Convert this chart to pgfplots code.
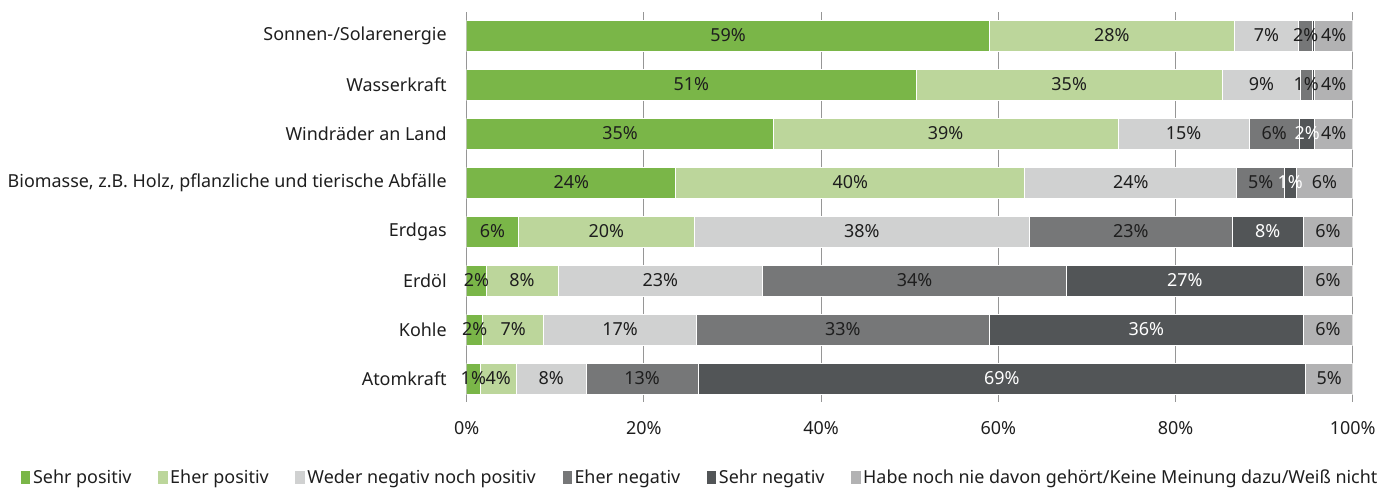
\documentclass[border=0pt]{standalone}
\usepackage{pgfplots}
\pgfplotsset{compat=1.18}
\usepackage{pgfplotstable}
\usepackage{fontspec}
\setmainfont{Noto Sans}
\definecolor{c1}{RGB}{122,182,72}
\definecolor{c2}{RGB}{188,214,155}
\definecolor{c3}{RGB}{208,209,209}
\definecolor{c4}{RGB}{118,119,120}
\definecolor{c5}{RGB}{82,85,87}
\definecolor{c6}{RGB}{178,178,179}
\definecolor{gridc}{RGB}{150,150,150}
\definecolor{txt}{RGB}{30,30,30}
\pgfplotstableread{
row sp spl ep epl we wel en enl sn snl hn hnl
1 59.0 59 27.6 28 7.3 7 1.6 2 0.2 0 4.3 4
2 50.7 51 34.6 35 8.8 9 1.3 1 0.3 0 4.3 4
3 34.6 35 38.9 39 14.8 15 5.7 6 1.7 2 4.3 4
4 23.6 24 39.4 40 23.9 24 5.4 5 1.3 1 6.4 6
5 5.8 6 19.9 20 37.8 38 22.9 23 8.0 8 5.6 6
6 2.2 2 8.1 8 23.1 23 34.3 34 26.7 27 5.6 6
7 1.8 2 6.9 7 17.2 17 33.1 33 35.4 36 5.6 6
8 1.5 1 4.1 4 7.9 8 12.6 13 68.6 69 5.3 5
}\data
\newcommand{\fs}{\fontsize{13.45}{16}\selectfont}
\begin{document}
\begin{tikzpicture}[font=\fs]
\path[use as bounding box] (-350pt,-66pt) rectangle (685.7pt,301.5pt);
\begin{axis}[
  at={(0,0)}, anchor=south west,
  scale only axis, width=664.5pt, height=292.5pt,
  xbar stacked, bar width=0.63,
  xmin=0, xmax=100, ymin=0.52, ymax=8.48, y dir=reverse,
  ytick={1,...,8},
  yticklabels={Sonnen-/Solarenergie, Wasserkraft, Windräder an Land, {Biomasse, z.B. Holz, pflanzliche und tierische Abfälle}, Erdgas, Erdöl, Kohle, Atomkraft},
  xtick={0,20,...,100},
  xticklabel={\pgfmathprintnumber{\tick}\%},
  /pgf/number format/assume math mode=true,
  xmajorgrids, major grid style={gridc, line width=0.75pt},
  x axis line style={draw=none},
  y axis line style={gridc, line width=0.75pt},
  major tick length=0pt,
  tick label style={text=txt, font=\fs},
  yticklabel style={anchor=east, inner xsep=0pt, xshift=-14.8pt},
  xticklabel style={anchor=center, yshift=-19.5pt},
  every axis plot/.append style={draw=white, line width=0.6pt},
  point meta=explicit symbolic,
  nodes near coords={\ifnum\pgfplotspointmeta>0 \pgfplotspointmeta\%\fi},
  every node near coord/.append style={anchor=center, inner sep=0pt, text=txt, font=\fs},
  legend style={at={(0.264,-0.195)}, anchor=center, draw=none, fill=none, legend columns=-1, font=\fs, text=txt,
    /tikz/every even column/.append style={column sep=18pt}},
  legend image code/.code={\fill[#1,draw=none] (0pt,-4.5pt) rectangle (7pt,5.5pt);},
]
\addplot[fill=c1] table[x=sp, y=row, meta=spl]{\data};
\addplot[fill=c2] table[x=ep, y=row, meta=epl]{\data};
\addplot[fill=c3] table[x=we, y=row, meta=wel]{\data};
\addplot[fill=c4] table[x=en, y=row, meta=enl]{\data};
\addplot[fill=c5, every node near coord/.append style={text=white}] table[x=sn, y=row, meta=snl]{\data};
\addplot[fill=c6] table[x=hn, y=row, meta=hnl]{\data};
\legend{Sehr positiv, Eher positiv, Weder negativ noch positiv, Eher negativ, Sehr negativ, Habe noch nie davon gehört/Keine Meinung dazu/Weiß nicht}
\end{axis}
\end{tikzpicture}
\end{document}
